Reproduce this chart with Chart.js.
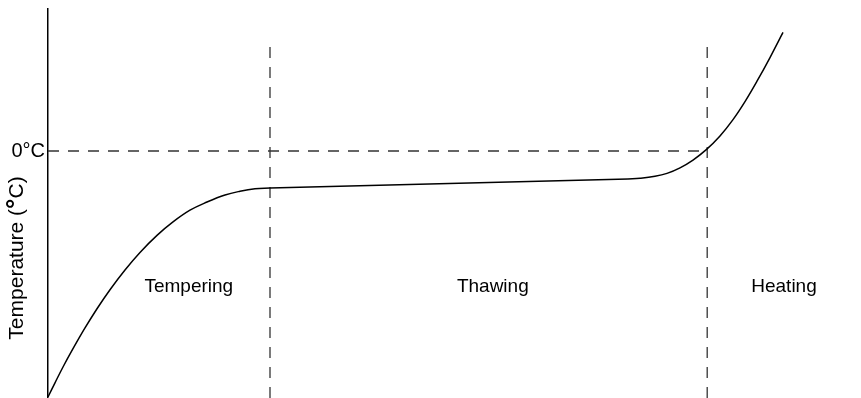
<!DOCTYPE html>
<html lang="en">
<head>
    <meta charset="UTF-8">
    <title>Temperature phases</title>
    <script src="https://cdn.jsdelivr.net/npm/chart.js@4.4.1/dist/chart.umd.min.js"></script>
    <style>
        html, body { margin: 0; padding: 0; background: #fff; }
        .chart-container { width: 861px; height: 398px; position: relative; }
    </style>
</head>
<body>
    <div class="chart-container">
        <canvas id="phaseChart"></canvas>
    </div>

    <script>
        // curve (time, temperature) in arbitrary units
        const temperingX = [0, 0.875, 1.875, 3.125, 4.625, 6.125, 7.75, 9.625, 11.5, 13.625, 15.625, 17.75, 19.875, 22.125, 24, 25.875, 27.75];
        const temperingY = [-19.92, -18.77, -17.49, -16.01, -14.33, -12.77, -11.23, -9.63, -8.21, -6.83, -5.74, -4.79, -4.13, -3.56, -3.26, -3.06, -3.0];

        const thawingX = [27.75, 72.5];
        const thawingY = [-3.0, -2.27];

        const heatingX = [72.5, 74, 75.875, 77.375, 79, 80.625, 82.25, 84, 85.625, 87.125, 88.625, 90.25, 91.875];
        const heatingY = [-2.27, -2.21, -2.05, -1.81, -1.36, -0.73, 0.09, 1.22, 2.54, 4.0, 5.65, 7.57, 9.6];

        // phase boundaries and freezing point
        const boundaries = [27.75, 82.4];
        const boundaryTop = 8.83;
        const freezeLevel = 0;

        const phaseNames = ['Tempering', 'Thawing', 'Heating'];
        const phaseLabelX = [17.6, 55.6, 92];
        const phaseLabelY = -11;

        const yTickValues = [0];
        const yTickLabels = ['0°C'];

        const FONT = "Arial, 'Liberation Sans', sans-serif";

        function toPoints(xs, ys) {
            return xs.map((x, i) => ({ x, y: ys[i] }));
        }

        const curveStyle = {
            borderColor: '#000',
            borderWidth: 1.5,
            pointRadius: 0,
            clip: false
        };
        const dashStyle = {
            borderColor: '#333',
            borderWidth: 1.3,
            borderDash: [11, 9],
            pointRadius: 0
        };

        const datasets = [
            { ...curveStyle, data: toPoints(temperingX, temperingY), tension: 0.4 },
            { ...curveStyle, data: toPoints(thawingX, thawingY), tension: 0 },
            { ...curveStyle, data: toPoints(heatingX, heatingY), tension: 0.4 }
        ];

        boundaries.forEach(b => {
            datasets.push({ ...dashStyle, data: [{ x: b, y: -20 }, { x: b, y: boundaryTop }] });
        });
        datasets.push({ ...dashStyle, data: [{ x: 0, y: freezeLevel }, { x: boundaries[1], y: freezeLevel }] });

        // phase names inside the plot and the y title with a heavier degree sign
        const labelPlugin = {
            id: 'labels',
            afterDraw(chart) {
                const ctx = chart.ctx;
                const xs = chart.scales.x, ys = chart.scales.y;
                ctx.save();
                ctx.fillStyle = '#000';
                ctx.font = '19px ' + FONT;
                ctx.textAlign = 'center';
                ctx.textBaseline = 'middle';
                phaseNames.forEach((name, i) => {
                    ctx.fillText(name, xs.getPixelForValue(phaseLabelX[i]), ys.getPixelForValue(phaseLabelY));
                });

                // rotated axis title
                ctx.translate(17, 258);
                ctx.rotate(-Math.PI / 2);
                ctx.textAlign = 'left';
                const parts = [
                    ['Temperature (', '21px ' + FONT, 0],
                    ['°', 'bold 26px ' + FONT, 0],
                    ['C)', '21px ' + FONT, 0]
                ];
                let total = 0;
                parts.forEach(p => { ctx.font = p[1]; p[2] = ctx.measureText(p[0]).width; total += p[2]; });
                let x = -total / 2;
                parts.forEach(p => {
                    ctx.font = p[1];
                    ctx.fillText(p[0], x, 0);
                    x += p[2];
                });
                ctx.restore();
            }
        };

        new Chart(document.getElementById('phaseChart'), {
            type: 'line',
            data: { datasets },
            options: {
                responsive: true,
                maintainAspectRatio: false,
                animation: false,
                layout: { padding: { top: 9, right: 13, bottom: 0, left: 0 } },
                plugins: {
                    legend: { display: false },
                    tooltip: { enabled: false }
                },
                scales: {
                    x: { type: 'linear', min: 0, max: 100, display: false },
                    y: {
                        min: -20,
                        max: 11.5,
                        afterFit(scale) {
                            scale.width = 48;
                            scale.paddingTop = 0;
                            scale.paddingBottom = 0;
                        },
                        afterBuildTicks(scale) { scale.ticks = yTickValues.map(v => ({ value: v })); },
                        ticks: {
                            callback: (v) => yTickLabels[yTickValues.indexOf(v)],
                            color: '#000',
                            font: { family: FONT, size: 20 },
                            padding: 3
                        },
                        grid: { display: false, drawTicks: false },
                        border: { display: true, color: '#000', width: 1.5 }
                    }
                }
            },
            plugins: [labelPlugin]
        });
    </script>
</body>
</html>
